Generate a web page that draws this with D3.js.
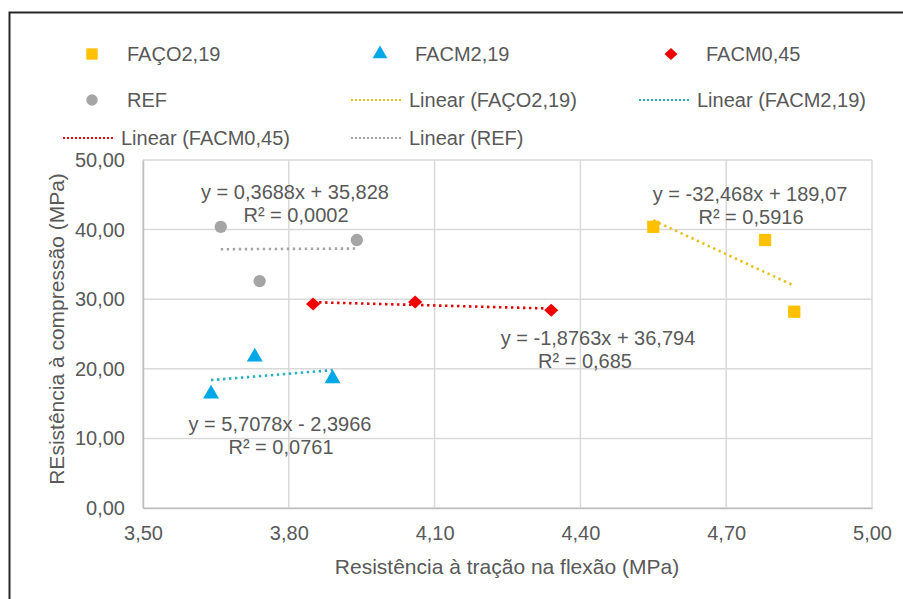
<!DOCTYPE html>
<html>
<head>
<meta charset="utf-8">
<script src="https://cdn.jsdelivr.net/npm/d3@7"></script>
<style>
  html, body { margin: 0; padding: 0; background: #fff; }
  svg { display: block; font-family: "Liberation Sans", Arial, sans-serif; }
</style>
</head>
<body>
<svg id="chart" width="903" height="599"></svg>
<script>
// Series: flexural tensile strength (x) vs compressive strength (y), MPa
const seriesNames = ["FAÇO2,19", "FACM2,19", "FACM0,45", "REF"];
const xFACO = [4.55, 4.78, 4.84];
const yFACO = [40.4, 38.5, 28.2];
const xFACM219 = [3.64, 3.73, 3.89];
const yFACM219 = [16.4, 21.7, 18.6];
const xFACM045 = [3.85, 4.06, 4.34];
const yFACM045 = [29.3, 29.6, 28.4];
const xREF = [3.66, 3.74, 3.94];
const yREF = [40.4, 32.6, 38.5];

// Linear trendline coefficients (as printed in the equations)
const slopes = [-32.468, 5.7078, -1.8763, 0.3688];
const intercepts = [189.07, -2.3966, 36.794, 35.828];
const eqLabels = ["y = -32,468x + 189,07", "y = 5,7078x - 2,3966", "y = -1,8763x + 36,794", "y = 0,3688x + 35,828"];
const r2Labels = ["R² = 0,5916", "R² = 0,0761", "R² = 0,685", "R² = 0,0002"];

const xTicks = [3.5, 3.8, 4.1, 4.4, 4.7, 5.0];
const yTicks = [0, 10, 20, 30, 40, 50];

const xTitle = "Resistência à tração na flexão (MPa)";
const yTitle = "REsistência à compressão (MPa)";

// Wide diamond marker (square rotated 45°)
const symbolWideDiamond = {
  draw(ctx, size) {
    const r = Math.sqrt(size / 2);
    ctx.moveTo(0, -r * 0.92);
    ctx.lineTo(r, 0);
    ctx.lineTo(0, r * 0.92);
    ctx.lineTo(-r, 0);
    ctx.closePath();
  }
};

const colors = ["#FFC000", "#00A8E8", "#F00000", "#A5A5A5"];
const trendColors = ["#E8C020", "#29AFC4", "#E00000", "#A5A5A5"];
const shapes = [d3.symbolSquare, d3.symbolTriangle, symbolWideDiamond, d3.symbolCircle];
const shapeSizes = [150, 110, 100, 120];

const xs = [xFACO, xFACM219, xFACM045, xREF];
const ys = [yFACO, yFACM219, yFACM045, yREF];

const pt = d3.formatLocale({decimal: ",", thousands: ".", grouping: [3], currency: ["", ""]});
const fmt = pt.format(".2f");

const svg = d3.select("#chart");
const textColor = "#595959";

// Outer frame
svg.append("rect").attr("x", 9.5).attr("y", 12.5).attr("width", 1000).attr("height", 1000)
  .attr("fill", "none").attr("stroke", "#262626").attr("stroke-width", 2);

const plotL = 143, plotR = 872, plotT = 160, plotB = 508;
const x = d3.scaleLinear().domain([3.5, 5.0]).range([plotL, plotR]);
const y = d3.scaleLinear().domain([0, 50]).range([plotB, plotT]);

// Gridlines
const grid = svg.append("g");
grid.selectAll("line.h").data(yTicks).join("line")
  .attr("x1", plotL).attr("x2", plotR).attr("y1", d => y(d)).attr("y2", d => y(d))
  .attr("stroke", "#d9d9d9").attr("stroke-width", 1.5);
grid.selectAll("line.v").data(xTicks).join("line")
  .attr("y1", plotT).attr("y2", plotB).attr("x1", d => x(d)).attr("x2", d => x(d))
  .attr("stroke", "#d9d9d9").attr("stroke-width", 1.5);

// Axes
const xAxis = svg.append("g").attr("transform", `translate(0,${plotB})`)
  .call(d3.axisBottom(x).tickValues(xTicks).tickFormat(fmt).tickSize(0).tickPadding(18));
xAxis.select(".domain").attr("stroke", "#bfbfbf").attr("stroke-width", 1.5);
xAxis.selectAll("text").attr("fill", textColor).attr("font-size", 20);

const yAxis = svg.append("g").attr("transform", `translate(${plotL},0)`)
  .call(d3.axisLeft(y).tickValues(yTicks).tickFormat(fmt).tickSize(0).tickPadding(18));
yAxis.select(".domain").attr("stroke", "#bfbfbf").attr("stroke-width", 1.5);
yAxis.selectAll("text").attr("fill", textColor).attr("font-size", 20);

// Axis titles
svg.append("text").attr("x", 507).attr("y", 574).attr("text-anchor", "middle")
  .attr("fill", textColor).attr("font-size", 21).text(xTitle);
svg.append("text").attr("transform", "translate(64,329) rotate(-90)").attr("text-anchor", "middle")
  .attr("fill", textColor).attr("font-size", 21).text(yTitle);

// Trendlines
const tl = svg.append("g");
seriesNames.forEach((name, i) => {
  const [x0, x1] = d3.extent(xs[i]);
  tl.append("line")
    .attr("x1", x(x0)).attr("x2", x(x1))
    .attr("y1", y(slopes[i] * x0 + intercepts[i])).attr("y2", y(slopes[i] * x1 + intercepts[i]))
    .attr("stroke", trendColors[i]).attr("stroke-width", 2.6)
    .attr("stroke-dasharray", "2.4,3.6");
});

// Markers
const mk = svg.append("g");
seriesNames.forEach((name, i) => {
  mk.selectAll(null).data(d3.range(xs[i].length)).join("path")
    .attr("d", d3.symbol().type(shapes[i]).size(shapeSizes[i]))
    .attr("transform", j => `translate(${x(xs[i][j])},${y(ys[i][j])})`)
    .attr("fill", colors[i]);
});

// Equation labels
const eqPos = [[750, 201], [280, 431], [598, 345], [295, 199]];
const eq = svg.append("g").attr("fill", "#595959").attr("font-size", 20).attr("text-anchor", "middle");
seriesNames.forEach((name, i) => {
  eq.append("text").attr("x", eqPos[i][0]).attr("y", eqPos[i][1]).text(eqLabels[i]);
  eq.append("text").attr("x", eqPos[i][0] + (i === 2 ? -13 : 1)).attr("y", eqPos[i][1] + 23).text(r2Labels[i]);
});

// Legend
const legendItems = [
  {label: "FAÇO2,19", kind: "marker", s: 0, x: 92, y: 54},
  {label: "FACM2,19", kind: "marker", s: 1, x: 380, y: 54},
  {label: "FACM0,45", kind: "marker", s: 2, x: 671, y: 54},
  {label: "REF", kind: "marker", s: 3, x: 92, y: 100},
  {label: "Linear (FAÇO2,19)", kind: "line", s: 0, x: 351, y: 100},
  {label: "Linear (FACM2,19)", kind: "line", s: 1, x: 639, y: 100},
  {label: "Linear (FACM0,45)", kind: "line", s: 2, x: 63, y: 138},
  {label: "Linear (REF)", kind: "line", s: 3, x: 351, y: 138}
];
const lg = svg.append("g");
legendItems.forEach(it => {
  if (it.kind === "marker") {
    lg.append("path").attr("d", d3.symbol().type(shapes[it.s]).size(shapeSizes[it.s] * 0.85))
      .attr("transform", `translate(${it.x},${it.y})`).attr("fill", colors[it.s]);
    lg.append("text").attr("x", it.x + 35).attr("y", it.y).attr("dy", "0.35em")
      .attr("fill", textColor).attr("font-size", 20).text(it.label);
  } else {
    lg.append("line").attr("x1", it.x).attr("x2", it.x + 52).attr("y1", it.y).attr("y2", it.y)
      .attr("stroke", trendColors[it.s]).attr("stroke-width", 2.2).attr("stroke-dasharray", "2,2");
    lg.append("text").attr("x", it.x + 58).attr("y", it.y).attr("dy", "0.35em")
      .attr("fill", textColor).attr("font-size", 20).text(it.label);
  }
});
</script>
</body>
</html>
